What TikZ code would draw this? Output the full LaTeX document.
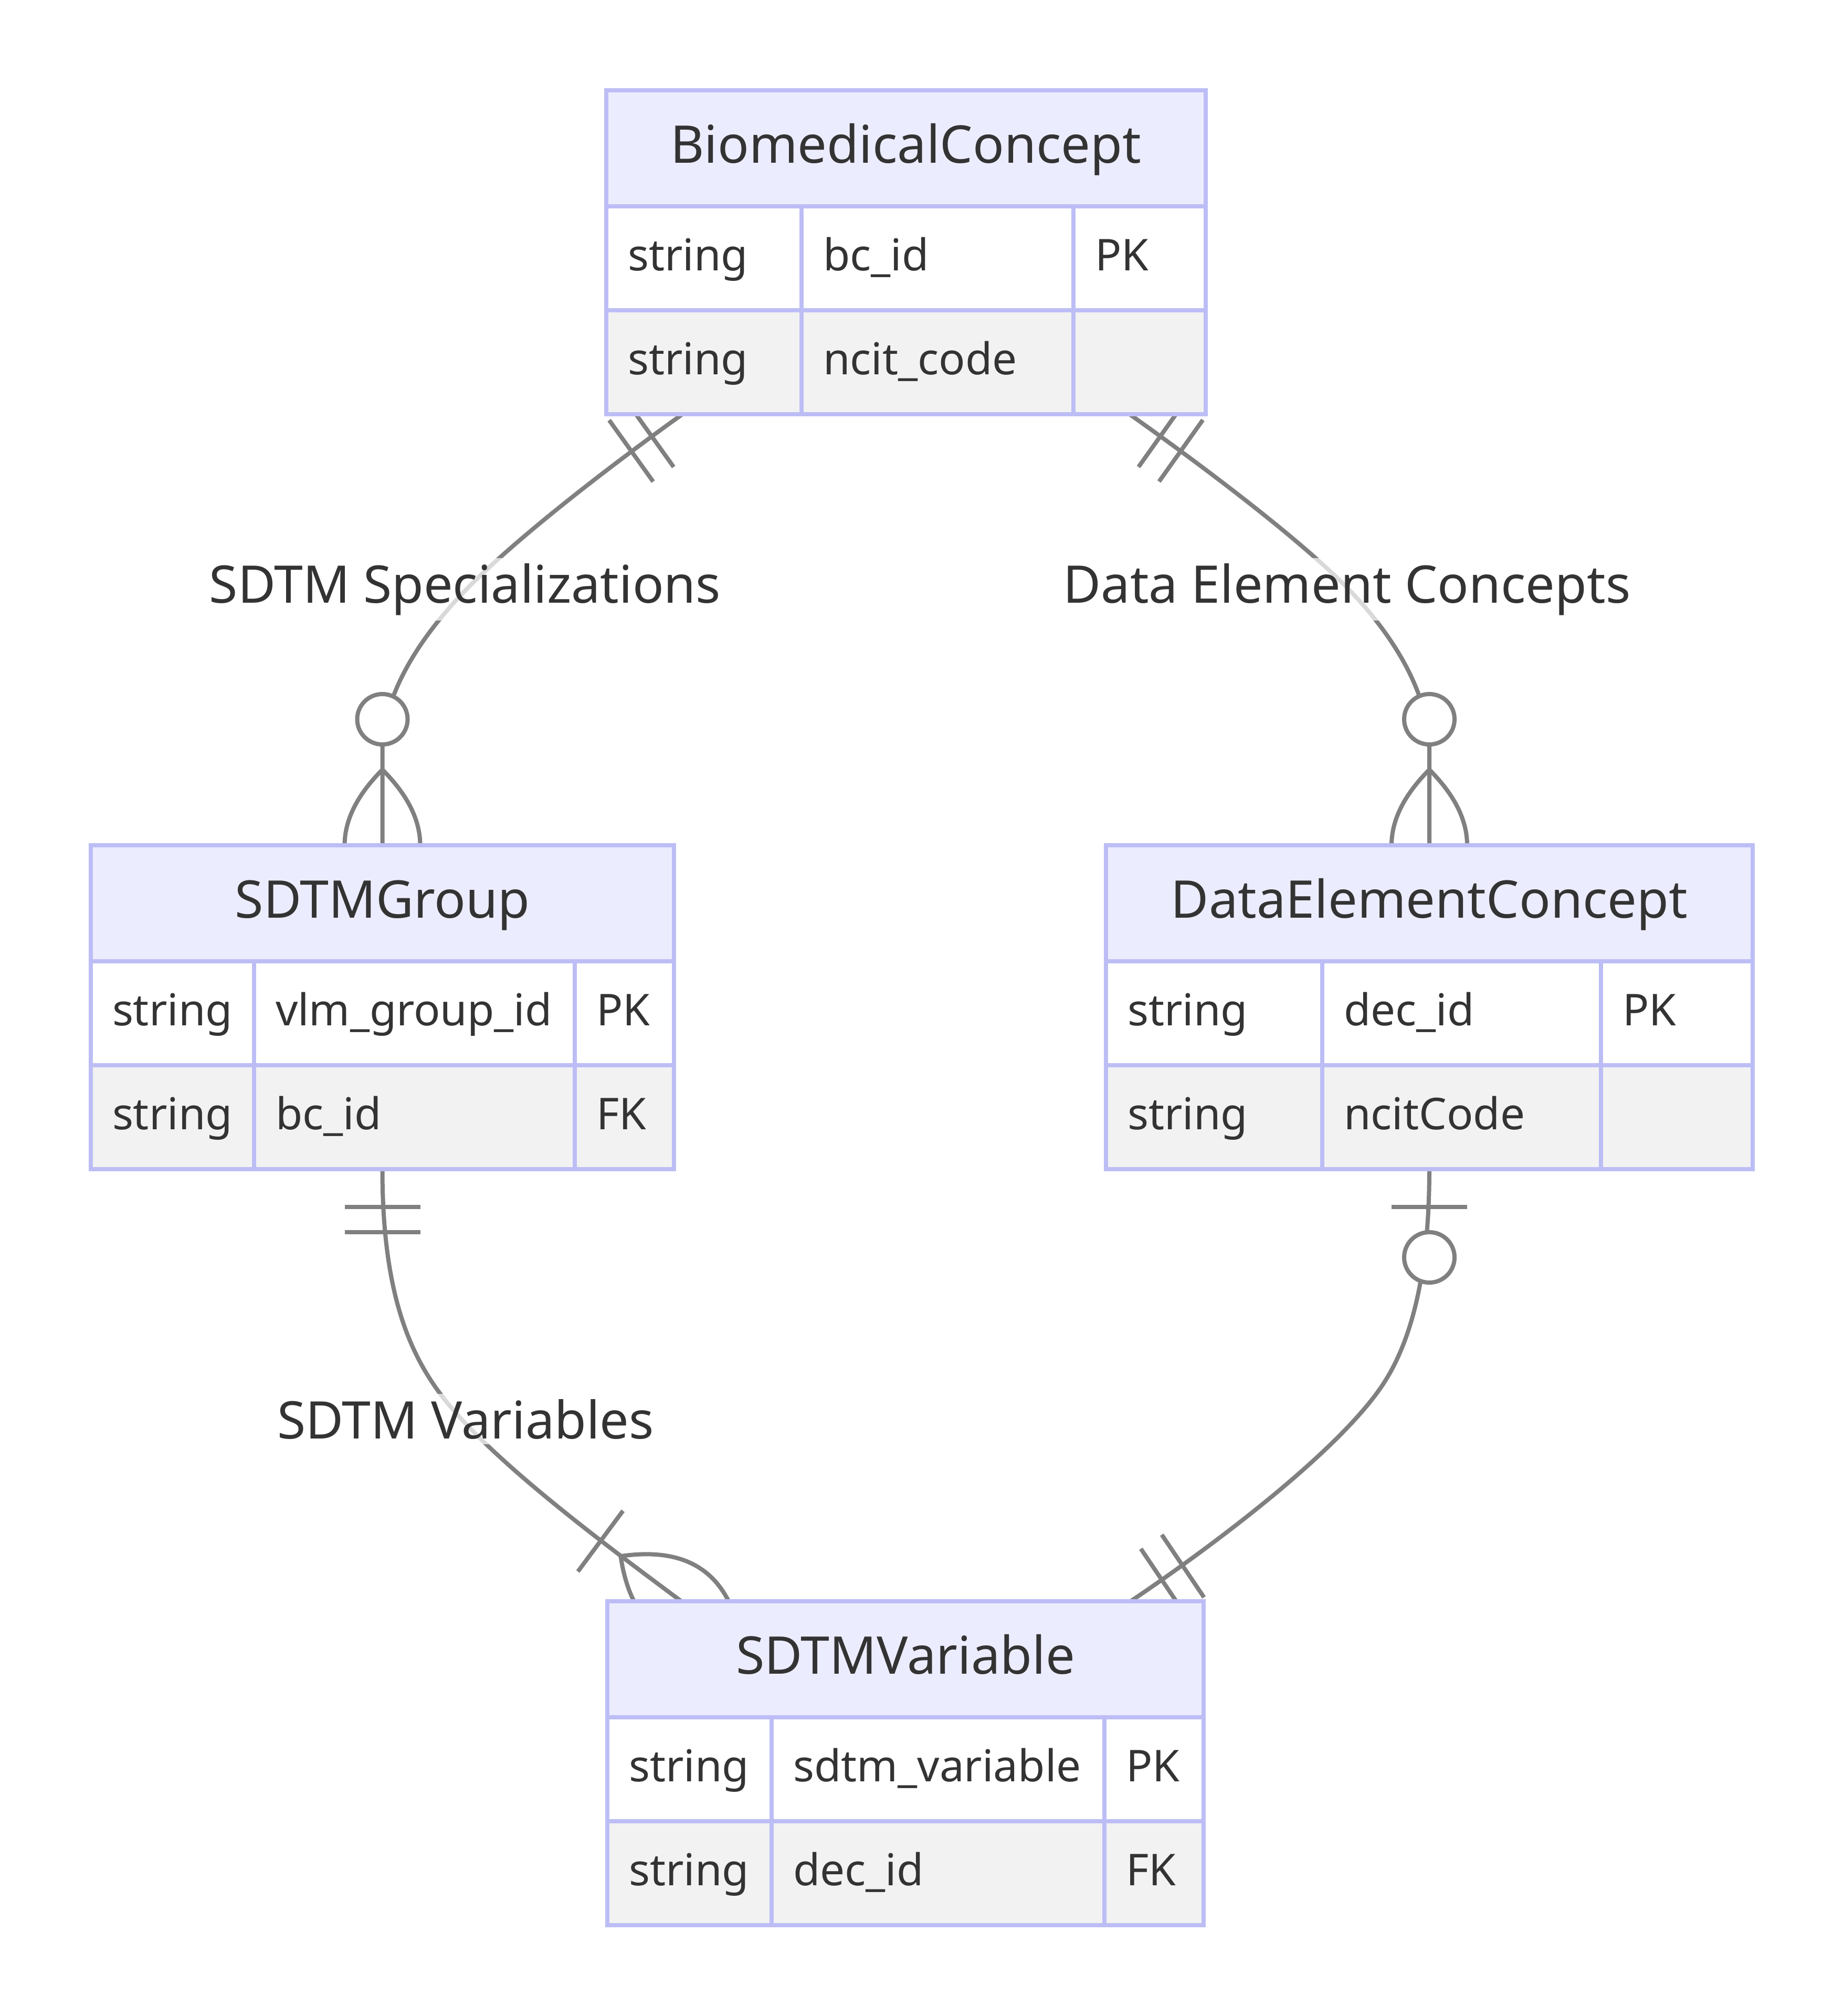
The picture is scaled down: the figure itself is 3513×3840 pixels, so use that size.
\documentclass[tikz,border=0pt]{standalone}
\usepackage{fontspec}
\setmainfont{Noto Sans}
\usetikzlibrary{calc,fit}
\definecolor{hdr}{RGB}{236,236,255}
\definecolor{bord}{RGB}{189,189,246}
\definecolor{rowb}{RGB}{242,242,242}
\definecolor{txt}{RGB}{51,51,51}
\definecolor{edgec}{RGB}{128,128,128}
\tikzset{
  erline/.style={draw=edgec, line width=1.6pt},
  cell/.style={draw=bord, line width=1.6pt},
  tbox/.style={draw=bord, line width=1.6pt, inner sep=0pt, outer sep=0pt},
  hdrtext/.style={text=txt, font=\fontsize{19.8pt}{24pt}\selectfont, anchor=base, inner sep=0pt},
  attrtext/.style={text=txt, font=\fontsize{16.7pt}{20pt}\selectfont, anchor=base west, inner sep=0pt},
  lbl/.style={text=txt, font=\fontsize{19.75pt}{24pt}\selectfont, anchor=base, fill=white, fill opacity=0.7, text opacity=1, inner sep=2pt},
}
% one attribute row: #1 name prefix, #2 row top, #3 x0, #4 x1, #5 x2, #6-#8 texts
\newcommand{\ertrow}[8]{%
  \node[attrtext] (#1a) at (#3+40, #2+122) {#6};
  \node[attrtext] (#1b) at (#4+40, #2+122) {#7};
  \node[attrtext] (#1c) at (#5+40, #2+122) {#8};
}
% table: #1 name, #2 x0, #3 x1, #4 x2, #5 x3, #6 y0, #7 title, #8 row1, #9 row2
\newcommand{\ertbl}[9]{%
  \fill[hdr] (#2,#6) rectangle (#5,#6+221);
  \fill[white] (#2,#6+221) rectangle (#5,#6+419);
  \fill[rowb] (#2,#6+419) rectangle (#5,#6+617);
  \draw[cell] (#2,#6+221) -- (#5,#6+221) (#2,#6+419) -- (#5,#6+419)
              (#3,#6+221) -- (#3,#6+617) (#4,#6+221) -- (#4,#6+617);
  \node[tbox, fit={(#2,#6) (#5,#6+617)}] (#1) {};
  \node[hdrtext] (#1-h) at ({(#2+#5)/2}, #6+138) {#7};
  \ertrow{#1-r1}{#6+221}{#2}{#3}{#4}#8
  \ertrow{#1-r2}{#6+419}{#2}{#3}{#4}#9
}
\newcommand{\ermark}[3]{\begin{scope}[shift={(#1)}, rotate=#2, x=1.6pt, y=1.6pt]#3\end{scope}}
\newcommand{\erOnlyOne}{\draw[erline] (9,-9) -- (9,9) (15,-9) -- (15,9);}
\newcommand{\erLens}{\draw[erline] (18,0) .. controls (6,12) and (-6,12) .. (-18,0) .. controls (-6,-12) and (6,-12) .. (18,0);}
\newcommand{\erZeroMany}{\erLens\draw[erline, fill=white] (30,0) circle[radius=6];}
\newcommand{\erOneMany}{\erLens\draw[erline] (24,-9) -- (24,9);}
\newcommand{\erZeroOne}{\draw[erline] (9,-9) -- (9,9);\draw[erline, fill=white] (21,0) circle[radius=6];}
\begin{document}
\begin{tikzpicture}[x=0.2pt, y=-0.2pt]
\useasboundingbox (0,0) rectangle (3513,3840);
\fill[white] (0,0) rectangle (3513,3840);
% invisible table frames first, for named anchors
\node[inner sep=0pt, outer sep=0pt, fit={(1155,172) (2297,789)}] (bcf) {};
\node[inner sep=0pt, outer sep=0pt, fit={(173,1610) (1284,2227)}] (sgf) {};
\node[inner sep=0pt, outer sep=0pt, fit={(2107,1610) (3339,2227)}] (decf) {};
\node[inner sep=0pt, outer sep=0pt, fit={(1157,3050) (2293,3667)}] (svf) {};
\coordinate (e1s) at ($(bcf.south)+(-426,0)$);
\coordinate (e2s) at ($(bcf.south)+(426,0)$);
\coordinate (e3e) at ($(svf.north)+(-427,0)$);
\coordinate (e4e) at ($(svf.north)+(429,0)$);
\coordinate (m1) at (893,1118);
\coordinate (m2) at (2565,1118);
\coordinate (m3) at (833,2647);
\coordinate (m4) at (2627,2648);
% connectors
\draw[erline] (e1s) .. controls (1152,895) and (984,1026) .. (m1) .. controls (823,1189) and (735,1300) .. (728.5,1420) -- (sgf.north);
\draw[erline] (e2s) .. controls (2300,894) and (2474,1026) .. (m2) .. controls (2635,1189) and (2718,1300) .. (2723,1420) -- (decf.north);
\draw[erline] (sgf.south) .. controls (728.5,2450) and (775,2566) .. (m3) .. controls (920,2769) and (1138,2931) .. (e3e);
\draw[erline] (decf.south) .. controls (2723,2420) and (2691,2559) .. (m4) .. controls (2540,2770) and (2320,2938) .. (e4e);
% markers
\ermark{e1s}{215.6}{\erOnlyOne}
\ermark{sgf.north}{90}{\erZeroMany}
\ermark{e2s}{-35.4}{\erOnlyOne}
\ermark{decf.north}{90}{\erZeroMany}
\ermark{sgf.south}{-90}{\erOnlyOne}
\ermark{e3e}{143.4}{\erOneMany}
\ermark{decf.south}{-90}{\erZeroOne}
\ermark{e4e}{34}{\erOnlyOne}
% labels
\node[lbl] (lb1) at (886,1148) {SDTM Specializations};
\node[lbl] (lb2) at (2566,1148) {Data Element Concepts};
\node[lbl] (lb3) at (887,2740) {SDTM Variables};
% tables
\ertbl{bc}{1155}{1527}{2045}{2297}{172}{BiomedicalConcept}{{string}{bc\_id}{PK}}{{string}{ncit\_code}{}}
\ertbl{sg}{173}{484}{1095}{1284}{1610}{SDTMGroup}{{string}{vlm\_group\_id}{PK}}{{string}{bc\_id}{FK}}
\ertbl{dec}{2107}{2519}{3050}{3339}{1610}{DataElementConcept}{{string}{dec\_id}{PK}}{{string}{ncitCode}{}}
\ertbl{sv}{1157}{1470}{2104}{2293}{3050}{SDTMVariable}{{string}{sdtm\_variable}{PK}}{{string}{dec\_id}{FK}}
\end{tikzpicture}
\end{document}
